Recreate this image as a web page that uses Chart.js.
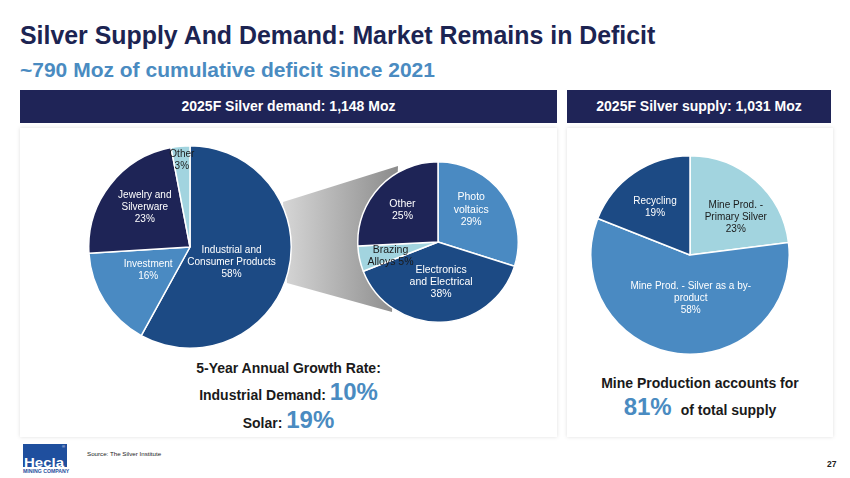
<!DOCTYPE html>
<html>
<head>
<meta charset="utf-8">
<script src="https://cdn.jsdelivr.net/npm/chart.js@4.4.1/dist/chart.umd.min.js"></script>
<style>
  html, body { margin: 0; padding: 0; background: #fff; }
  body { width: 850px; height: 478px; position: relative; overflow: hidden; font-family: Arial, "Liberation Sans", sans-serif; }
  .abs { position: absolute; }
  .title { left: 20px; top: 23px; font-size: 24.9px; line-height: 1; font-weight: bold; color: #1c2452; white-space: nowrap; }
  .subtitle { left: 20px; top: 59px; font-size: 21px; line-height: 1; font-weight: bold; color: #4a8bc1; white-space: nowrap; }
  .banner { top: 90px; height: 33px; line-height: 33px; background: #1f2457; color: #fff; font-size: 14px; font-weight: bold; text-align: center; }
  .card { top: 128px; height: 309px; background: #fff; box-shadow: 0 0 4px rgba(0,0,0,0.13); }
  .row { display: flex; justify-content: center; align-items: baseline; font-weight: bold; color: #1a1a1a; white-space: nowrap; }
  .row span { line-height: 1; }
  .small { font-size: 14px; }
  .big { font-size: 24px; color: #4a8bc1; }
  .connector { left: 280px; top: 160px; width: 120px; height: 160px;
    background: linear-gradient(to right, #d8d8d8, #8a8a8a);
    clip-path: polygon(3px 42px, 118px 6px, 112px 152px, 7px 123px); }
  canvas { position: absolute; }
  .logo { left: 23px; top: 444px; width: 44px; height: 23px; background: #1f4f9e; overflow: hidden; }
  .logo .name { position: absolute; left: 1px; bottom: -2px; color: #fff; font-weight: bold; font-size: 12.5px; line-height: 1; transform: scaleX(1.2); transform-origin: left bottom; }
  .logo .reg { position: absolute; right: 2px; top: 1px; color: #fff; font-size: 4px; line-height: 1; }
  .mining { left: 23px; top: 469px; width: 44px; font-size: 5.2px; font-weight: bold; color: #1f4f9e; white-space: nowrap; line-height: 1; }
  .source { left: 87px; top: 451px; font-size: 6.2px; color: #222; white-space: nowrap; line-height: 1; }
  .page { left: 827px; top: 460px; font-size: 8.5px; font-weight: bold; color: #222; line-height: 1; }
</style>
</head>
<body>
<div class="abs title">Silver Supply And Demand: Market Remains in Deficit</div>
<div class="abs subtitle">~790 Moz of cumulative deficit since 2021</div>

<div class="abs banner" style="left:20px;width:537px;">2025F Silver demand: 1,148 Moz</div>
<div class="abs banner" style="left:567px;width:264px;">2025F Silver supply: 1,031 Moz</div>

<div class="abs card" style="left:20px;width:537px;"></div>
<div class="abs card" style="left:567px;width:266px;"></div>

<div class="abs connector"></div>

<canvas id="demandChart" width="204" height="204" style="left:88px;top:145px;width:204px;height:204px;"></canvas>
<canvas id="industrialChart" width="162" height="162" style="left:357px;top:161px;width:162px;height:162px;"></canvas>
<canvas id="supplyChart" width="200" height="200" style="left:590px;top:155px;width:200px;height:200px;"></canvas>

<div class="abs row" style="left:20px;width:537px;top:361px;"><span class="small">5-Year Annual Growth Rate:</span></div>
<div class="abs row" style="left:20px;width:537px;top:380px;"><span class="small">Industrial Demand:&nbsp;</span><span class="big">10%</span></div>
<div class="abs row" style="left:20px;width:537px;top:408px;"><span class="small">Solar:&nbsp;</span><span class="big">19%</span></div>

<div class="abs row" style="left:567px;width:266px;top:376px;"><span class="small">Mine Production accounts for</span></div>
<div class="abs row" style="left:567px;width:266px;top:395px;"><span class="big">81%</span><span class="small" style="margin-left:9px;">of total supply</span></div>

<div class="abs logo"><span class="name">Hecla</span><span class="reg">®</span></div>
<div class="abs mining">MINING COMPANY</div>
<div class="abs source">Source: The Silver Institute</div>
<div class="abs page">27</div>

<script>
// Datos
var demandLabels = ["Industrial and\nConsumer Products", "Investment", "Jewelry and\nSilverware", "Other"];
var demandValues = [58, 16, 23, 3];

var industrialLabels = ["Photo\nvoltaics", "Electronics\nand Electrical", "Brazing\nAlloys", "Other"];
var industrialValues = [29, 38, 5, 25];

var supplyLabels = ["Mine Prod. -\nPrimary Silver", "Mine Prod. - Silver as a by-\nproduct", "Recycling"];
var supplyValues = [23, 58, 19];

// Colores
var navy = "#1e2456";
var darkBlue = "#1c4a84";
var midBlue = "#4a8ac2";
var lightBlue = "#a2d4df";

// Plugin para dibujar las etiquetas dentro de cada porción
var sliceLabels = {
  id: "sliceLabels",
  afterDatasetsDraw: function (chart, args, opts) {
    var ctx = chart.ctx;
    var meta = chart.getDatasetMeta(0);
    var values = chart.data.datasets[0].data;
    meta.data.forEach(function (arc, i) {
      var p = arc.getProps(["x", "y", "startAngle", "endAngle", "outerRadius"], true);
      var mid = (p.startAngle + p.endAngle) / 2 + (opts.turn[i] || 0) * Math.PI / 180;
      var r = p.outerRadius * opts.radius[i];
      var cx = p.x + Math.cos(mid) * r;
      var cy = p.y + Math.sin(mid) * r;
      var lines = chart.data.labels[i].split("\n");
      if (opts.inline && opts.inline[i]) {
        lines[lines.length - 1] += " " + values[i] + "%";
      } else {
        lines.push(values[i] + "%");
      }
      ctx.save();
      ctx.font = opts.font;
      ctx.fillStyle = opts.colors[i];
      ctx.textAlign = "center";
      ctx.textBaseline = "middle";
      var y0 = cy - (lines.length - 1) * opts.lineHeight / 2;
      lines.forEach(function (t, k) {
        ctx.fillText(t, cx, y0 + k * opts.lineHeight);
      });
      ctx.restore();
    });
  }
};

function makePie(id, labels, values, colors, labelOpts) {
  var ctx = document.getElementById(id).getContext("2d");
  return new Chart(ctx, {
    type: "pie",
    data: {
      labels: labels,
      datasets: [{
        data: values,
        backgroundColor: colors,
        borderColor: "#ffffff",
        borderWidth: 1.5
      }]
    },
    options: {
      responsive: false,
      animation: false,
      layout: { padding: 0 },
      plugins: {
        legend: { display: false },
        tooltip: { enabled: false },
        sliceLabels: labelOpts
      }
    },
    plugins: [sliceLabels]
  });
}

makePie("demandChart", demandLabels, demandValues,
  [darkBlue, midBlue, navy, lightBlue], {
    font: "10px Arial, 'Liberation Sans', sans-serif",
    lineHeight: 12,
    radius: [0.437, 0.473, 0.596, 0.858],
    turn: [5.8, 3.3, 3.7, 0],
    colors: ["#fff", "#fff", "#fff", "#1a1a1a"]
  });

makePie("industrialChart", industrialLabels, industrialValues,
  [midBlue, darkBlue, lightBlue, navy], {
    font: "10.5px Arial, 'Liberation Sans', sans-serif",
    lineHeight: 12.3,
    radius: [0.576, 0.5, 0.617, 0.593],
    turn: [-7.9, -2.6, -4.2, -1.9],
    inline: [false, false, true, false],
    colors: ["#fff", "#fff", "#1a1a1a", "#fff"]
  });

makePie("supplyChart", supplyLabels, supplyValues,
  [lightBlue, midBlue, darkBlue], {
    font: "10px Arial, 'Liberation Sans', sans-serif",
    lineHeight: 11.8,
    radius: [0.598, 0.436, 0.594],
    turn: [9.1, -8.2, -2.2],
    colors: ["#1a1a1a", "#fff", "#fff"]
  });
</script>
</body>
</html>
